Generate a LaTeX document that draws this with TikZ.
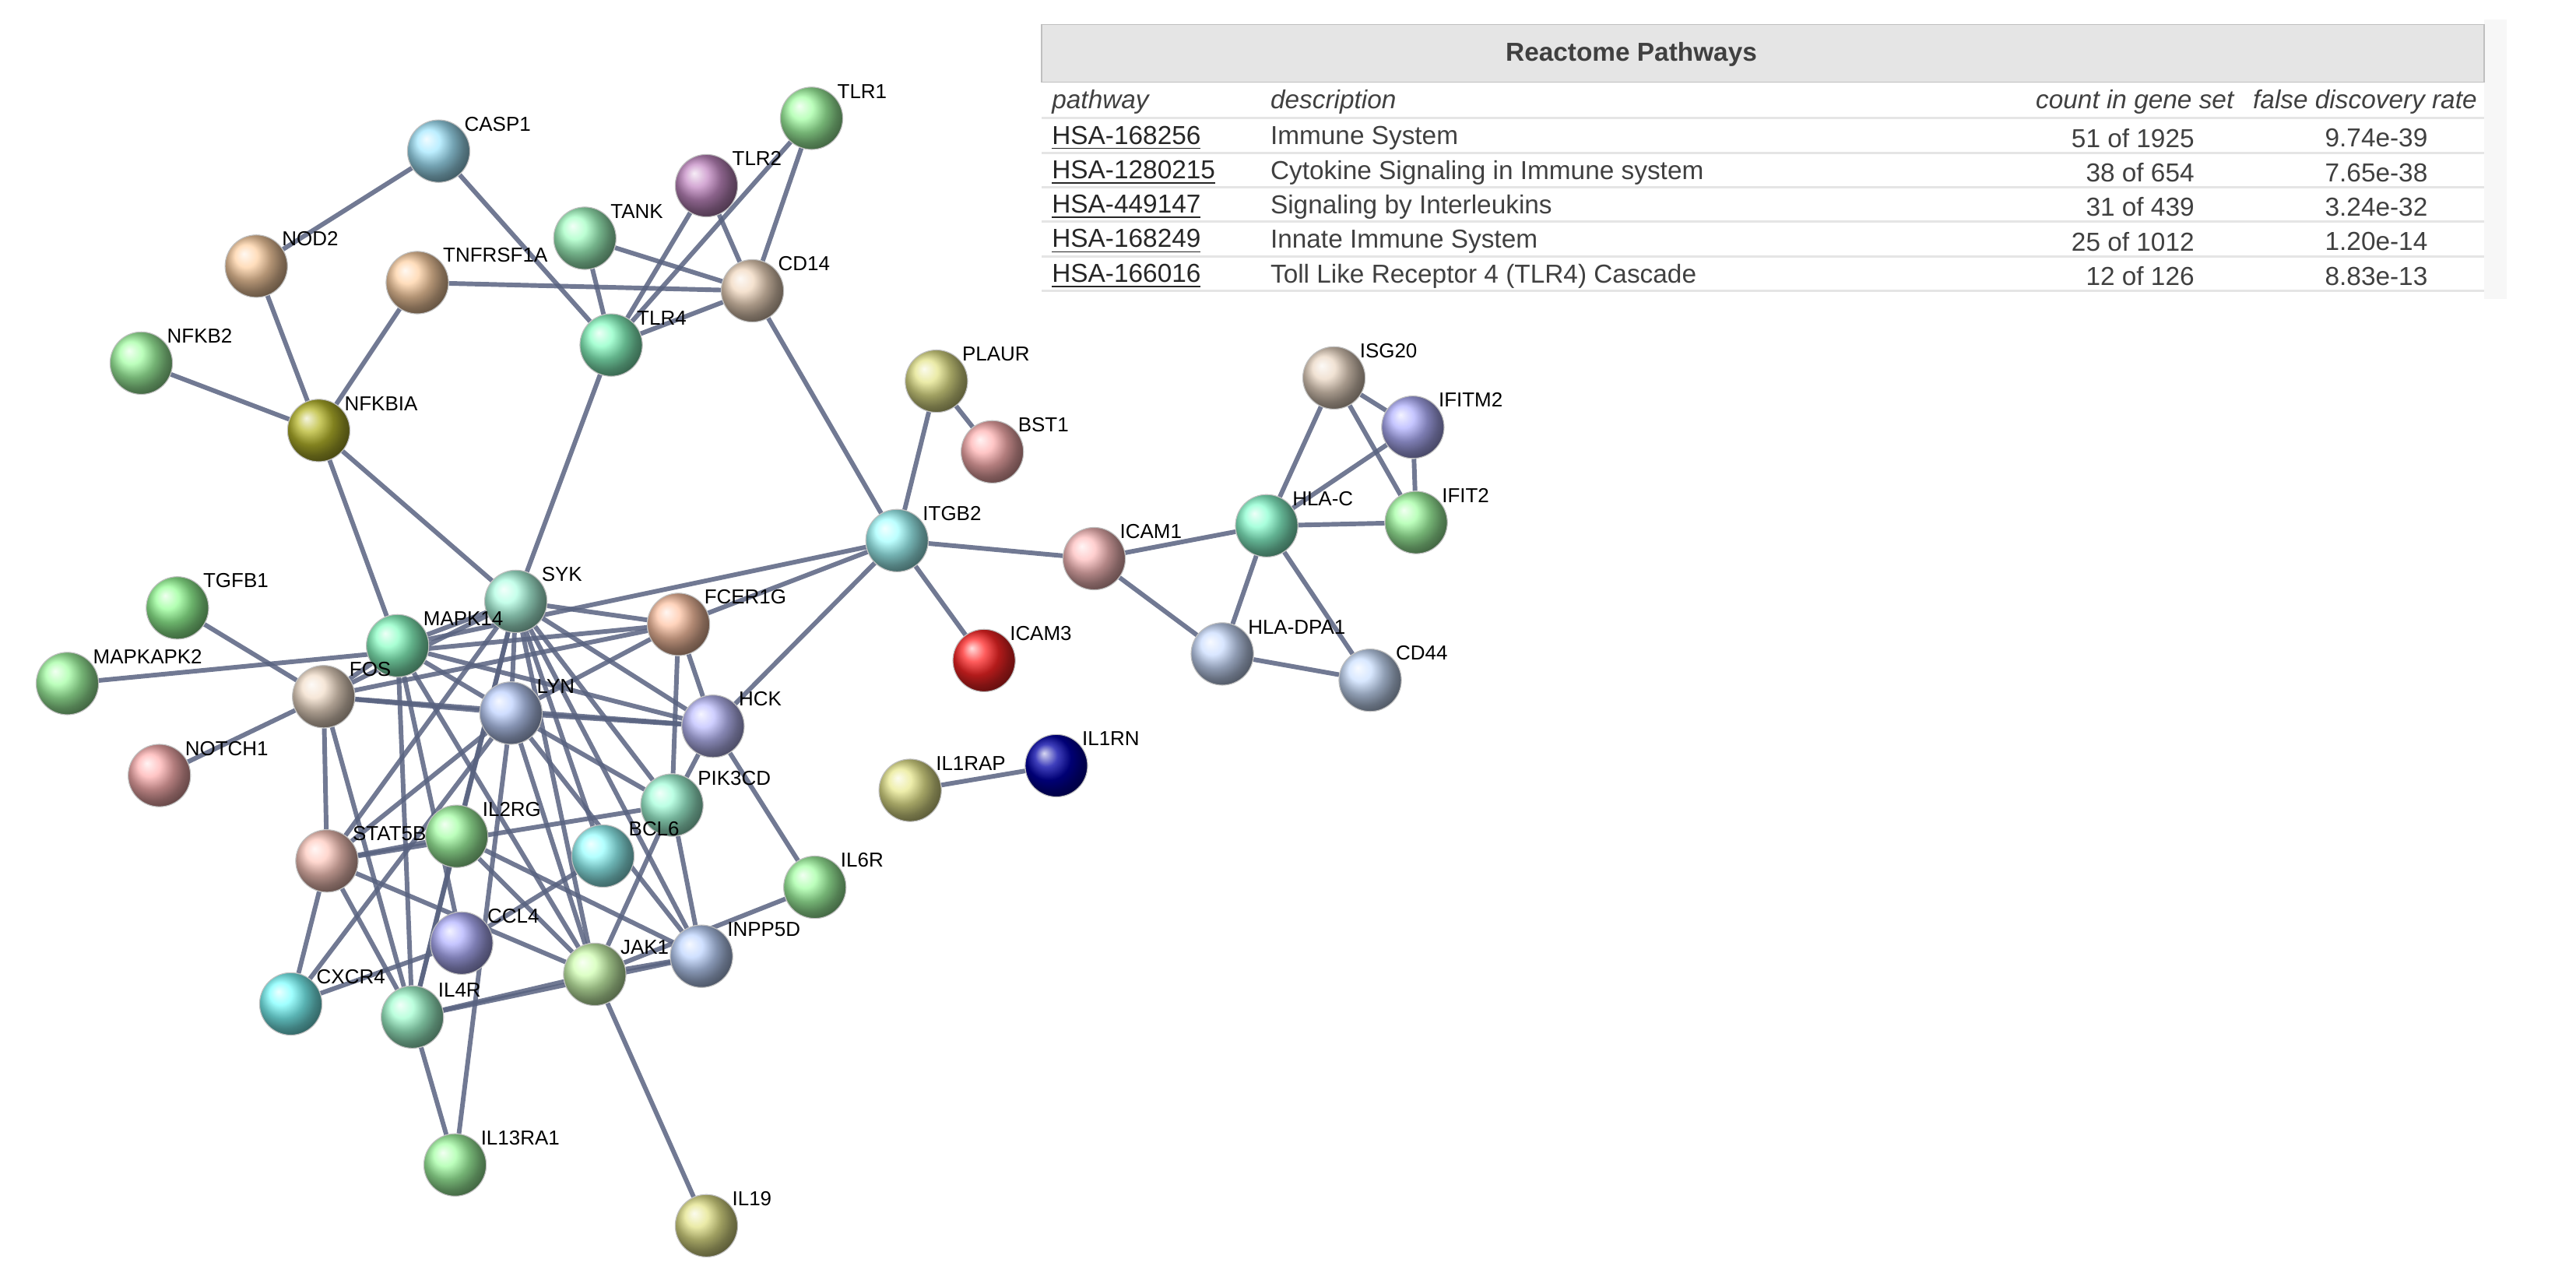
\documentclass[tikz,border=0pt]{standalone}
\usepackage{fontspec}
\setmainfont{Liberation Sans}
\pgfdeclarelayer{bg}\pgfsetlayers{bg,main}
\definecolor{edgecol}{RGB}{88,98,128}
\begin{document}
\begin{tikzpicture}[x=0.02cm,y=-0.02cm,
  gene/.style={circle,minimum size=0.76cm,inner sep=0pt,ball color=#1,draw=black!25,line width=0.3pt},
  lbl/.style={font=\fontsize{7}{8}\selectfont,anchor=south west,inner sep=1pt},
  edge/.style={draw=edgecol,line width=1.6pt,opacity=0.85},
  cell/.style={font=\fontsize{9}{10}\selectfont,text=black!75,inner sep=0pt}]
\useasboundingbox (0,0) rectangle (1568,783);
% table
\fill[black!3] (1512,12) rectangle (1526,182);
\fill[black!10] (634,15) rectangle (1512,50);
\draw[black!25] (634,15) rectangle (1512,50);
\node[cell,font=\fontsize{9}{10}\selectfont\bfseries] (th) at (993,33) {Reactome Pathways};
\foreach \yy in {72,93,114,135,156,177}{\draw[black!10,line width=0.8pt] (634,\yy) -- (1512,\yy);}
\node[cell,anchor=west,font=\fontsize{9}{10}\selectfont\itshape] (h1) at (640,62) {pathway};
\node[cell,anchor=west,font=\fontsize{9}{10}\selectfont\itshape] (h2) at (773,62) {description};
\node[cell,anchor=east,font=\fontsize{9}{10}\selectfont\itshape] (h3) at (1360,62) {count in gene set};
\node[cell,anchor=east,font=\fontsize{9}{10}\selectfont\itshape] (h4) at (1508,62) {false discovery rate};
\foreach \i/\p/\d/\c/\f in {0/HSA-168256/Immune System/51 of 1925/9.74e-39,
  1/HSA-1280215/Cytokine Signaling in Immune system/38 of 654/7.65e-38,
  2/HSA-449147/Signaling by Interleukins/31 of 439/3.24e-32,
  3/HSA-168249/Innate Immune System/25 of 1012/1.20e-14,
  4/HSA-166016/Toll Like Receptor 4 (TLR4) Cascade/12 of 126/8.83e-13}{
  \node[cell,anchor=west,text=black!85] (p\i) at (640,84+21*\i) {\underline{\p}};
  \node[cell,anchor=west] (d\i) at (773,84+21*\i) {\d};
  \node[cell,anchor=east] (c\i) at (1336,84+21*\i) {\c};
  \node[cell,anchor=east] (f\i) at (1478,84+21*\i) {\f};
}
% nodes
\foreach \n/\x/\y/\c in {CASP1/267/92/blue!25!cyan!35,NOD2/156/162/orange!35,TNFRSF1A/254/172/orange!35,
 TANK/356/145/cyan!35!green!35,TLR2/430/113/violet!45,TLR1/494/72/green!35,CD14/458/177/orange!30!brown!30,
 TLR4/372/210/green!50!cyan!45,NFKB2/86/221/green!35,NFKBIA/194/262/olive!55,PLAUR/570/232/yellow!40!olive!35,
 BST1/604/275/red!30,ITGB2/546/329/cyan!35,ICAM1/666/340/red!25,ICAM3/599/402/red!85,ISG20/812/230/brown!30,
 IFITM2/860/260/blue!30,HLA-C/771/320/green!40!cyan!45,IFIT2/862/318/green!35,HLA-DPA1/744/398/cyan!35!blue!20,
 CD44/834/414/cyan!40!blue!20,IL1RAP/554/481/yellow!50!olive!35,IL1RN/643/466/blue!65!black,TGFB1/108/370/green!40,
 MAPKAPK2/41/416/green!35,MAPK14/242/393/green!50!cyan!45,SYK/314/366/green!35!cyan!30,FCER1G/413/380/red!30!orange!35,
 FOS/197/424/orange!25!brown!25,LYN/311/434/cyan!30!blue!25,HCK/434/442/blue!25,NOTCH1/97/472/red!30,
 PIK3CD/409/490/green!40!cyan!35,IL2RG/278/509/green!35,BCL6/367/521/cyan!40,STAT5B/199/524/orange!35!red!25,
 IL6R/496/540/green!35,CCL4/281/574/blue!30,JAK1/362/593/yellow!40!green!30,INPP5D/427/582/cyan!35!blue!25,
 CXCR4/177/611/cyan!50,IL4R/251/619/cyan!50!green!35,IL13RA1/277/709/green!35,IL19/430/746/yellow!40!olive!35}{
 \node[gene=\c] (\n) at (\x,\y) {};
}
\begin{pgfonlayer}{bg}
\foreach \a/\b in {CASP1/NOD2,NOD2/NFKBIA,TNFRSF1A/NFKBIA,CASP1/TLR4,TANK/TLR4,TANK/CD14,TLR2/TLR4,TLR2/CD14,
 TLR1/CD14,TLR1/TLR4,TLR4/CD14,TNFRSF1A/CD14,CD14/ITGB2,TLR4/SYK,NFKB2/NFKBIA,NFKBIA/SYK,NFKBIA/MAPK14,
 ITGB2/PLAUR,PLAUR/BST1,ITGB2/ICAM1,ITGB2/ICAM3,ITGB2/FCER1G,ITGB2/HCK,ITGB2/MAPK14,ICAM1/HLA-C,ICAM1/HLA-DPA1,
 HLA-C/ISG20,HLA-C/IFITM2,HLA-C/IFIT2,HLA-C/HLA-DPA1,HLA-C/CD44,HLA-DPA1/CD44,ISG20/IFITM2,ISG20/IFIT2,
 IFITM2/IFIT2,IL1RAP/IL1RN,TGFB1/FOS,MAPKAPK2/FCER1G,NOTCH1/FOS,FOS/MAPK14,FOS/SYK,FOS/LYN,FOS/HCK,FOS/STAT5B,
 FOS/FCER1G,FOS/IL4R,MAPK14/SYK,MAPK14/LYN,MAPK14/HCK,MAPK14/IL4R,MAPK14/CCL4,MAPK14/JAK1,SYK/FCER1G,SYK/LYN,
 SYK/HCK,SYK/PIK3CD,SYK/IL2RG,SYK/BCL6,SYK/STAT5B,SYK/JAK1,SYK/INPP5D,SYK/IL4R,LYN/FCER1G,LYN/HCK,LYN/PIK3CD,
 LYN/JAK1,LYN/INPP5D,LYN/CXCR4,LYN/STAT5B,FCER1G/HCK,FCER1G/PIK3CD,HCK/IL6R,HCK/PIK3CD,PIK3CD/STAT5B,
 PIK3CD/JAK1,PIK3CD/INPP5D,IL2RG/JAK1,IL2RG/IL4R,IL2RG/INPP5D,BCL6/CCL4,IL6R/JAK1,STAT5B/JAK1,STAT5B/CXCR4,
 STAT5B/IL4R,STAT5B/IL2RG,CCL4/CXCR4,JAK1/IL4R,JAK1/INPP5D,JAK1/IL19,IL4R/IL13RA1,IL4R/INPP5D,LYN/IL13RA1}{
 \draw[edge] (\a) -- (\b);}
\end{pgfonlayer}
\foreach \n in {CASP1,NOD2,TNFRSF1A,TANK,TLR2,TLR1,CD14,TLR4,NFKB2,NFKBIA,PLAUR,BST1,ITGB2,ICAM1,ICAM3,ISG20,
 IFITM2,HLA-C,IFIT2,HLA-DPA1,CD44,IL1RAP,IL1RN,TGFB1,MAPKAPK2,MAPK14,SYK,FCER1G,FOS,LYN,HCK,NOTCH1,PIK3CD,
 IL2RG,BCL6,STAT5B,IL6R,CCL4,JAK1,INPP5D,CXCR4,IL4R,IL13RA1,IL19}{
 \node[lbl] (l\n) at ([xshift=0,yshift=-2]\n.north east) {\n};}
\end{tikzpicture}
\end{document}
